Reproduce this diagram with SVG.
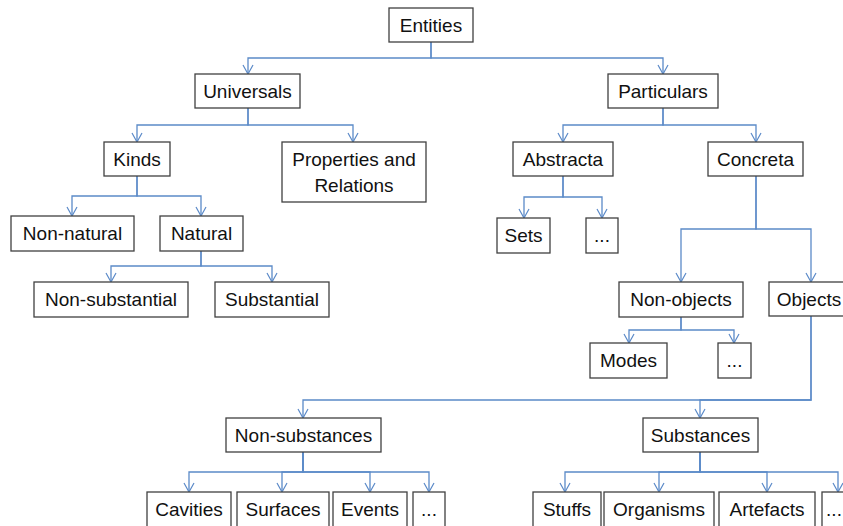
<svg xmlns="http://www.w3.org/2000/svg" width="843" height="526" viewBox="0 0 843 526">
  <style>
    .box { fill: #ffffff; stroke: #404040; stroke-width: 1.3; }
    .lbl { font-family: "Liberation Sans", Arial, sans-serif; font-size: 19px; fill: #111111; text-anchor: middle; }
    .edge { fill: none; stroke: #5b8ac8; stroke-width: 1.3; marker-end: url(#arr); }
  </style>
  <defs>
    <marker id="arr" viewBox="0 0 12 12" refX="10" refY="6" markerWidth="12" markerHeight="12" markerUnits="userSpaceOnUse" orient="auto">
      <path d="M1,1 L10,6 L1,11" fill="none" stroke="#5b8ac8" stroke-width="1.2"/>
    </marker>
  </defs>
  <rect width="843" height="526" fill="#ffffff"/>

  <!-- connectors: parent bottom, down to a bus line, across, down to child top -->
  <g id="connectors">
    <path class="edge" d="M431,42 V58 H248 V74"/>
    <path class="edge" d="M431,42 V58 H663 V74"/>
    <path class="edge" d="M248,108 V125 H137 V142"/>
    <path class="edge" d="M248,108 V125 H353 V142"/>
    <path class="edge" d="M137,176 V196 H72 V216"/>
    <path class="edge" d="M137,176 V196 H201 V216"/>
    <path class="edge" d="M201,251 V266 H111 V282"/>
    <path class="edge" d="M201,251 V266 H272 V282"/>
    <path class="edge" d="M663,108 V125 H563 V142"/>
    <path class="edge" d="M663,108 V125 H756 V142"/>
    <path class="edge" d="M563,176 V197 H524 V218"/>
    <path class="edge" d="M563,176 V197 H602 V218"/>
    <path class="edge" d="M756,176 V229 H681 V282"/>
    <path class="edge" d="M756,176 V229 H811 V282"/>
    <path class="edge" d="M681,317 V330 H629 V343"/>
    <path class="edge" d="M681,317 V330 H734 V343"/>
    <path class="edge" d="M811,316 V400 H303 V418"/>
    <path class="edge" d="M811,316 V400 H700 V418"/>
    <path class="edge" d="M303,452 V472 H189 V492"/>
    <path class="edge" d="M303,452 V472 H282 V492"/>
    <path class="edge" d="M303,452 V472 H370 V492"/>
    <path class="edge" d="M303,452 V472 H429 V492"/>
    <path class="edge" d="M700,452 V472 H565 V492"/>
    <path class="edge" d="M700,452 V472 H659 V492"/>
    <path class="edge" d="M700,452 V472 H767 V492"/>
    <path class="edge" d="M700,452 V472 H838 V492"/>
  </g>

  <g id="entities"><rect class="box" x="389" y="8" width="84" height="34"/><text class="lbl" x="431" y="31.5">Entities</text></g>
  <g id="universals"><rect class="box" x="195" y="74" width="105" height="34"/><text class="lbl" x="247.5" y="97.5">Universals</text></g>
  <g id="particulars"><rect class="box" x="608" y="74" width="110" height="34"/><text class="lbl" x="663" y="97.5">Particulars</text></g>
  <g id="kinds"><rect class="box" x="104" y="142" width="66" height="34"/><text class="lbl" x="137" y="165.5">Kinds</text></g>
  <g id="properties-relations"><rect class="box" x="282" y="142" width="144" height="60"/><text class="lbl" x="354" y="166">Properties and</text><text class="lbl" x="354" y="192">Relations</text></g>
  <g id="non-natural"><rect class="box" x="11" y="216" width="123" height="35"/><text class="lbl" x="72.5" y="240">Non-natural</text></g>
  <g id="natural"><rect class="box" x="160" y="216" width="83" height="35"/><text class="lbl" x="201.5" y="240">Natural</text></g>
  <g id="non-substantial"><rect class="box" x="34" y="282" width="154" height="35"/><text class="lbl" x="111" y="306">Non-substantial</text></g>
  <g id="substantial"><rect class="box" x="215" y="282" width="114" height="35"/><text class="lbl" x="272" y="306">Substantial</text></g>
  <g id="abstracta"><rect class="box" x="513" y="142" width="100" height="34"/><text class="lbl" x="563" y="165.5">Abstracta</text></g>
  <g id="concreta"><rect class="box" x="708" y="142" width="95" height="34"/><text class="lbl" x="755.5" y="165.5">Concreta</text></g>
  <g id="sets"><rect class="box" x="497" y="218" width="53" height="35"/><text class="lbl" x="523.5" y="242">Sets</text></g>
  <g id="abstracta-more"><rect class="box" x="586" y="218" width="32" height="35"/><text class="lbl" x="602" y="242">...</text></g>
  <g id="non-objects"><rect class="box" x="619" y="282" width="124" height="35"/><text class="lbl" x="681" y="306">Non-objects</text></g>
  <g id="objects"><rect class="box" x="769" y="282" width="84" height="34"/><text class="lbl" x="809" y="305.5">Objects</text></g>
  <g id="modes"><rect class="box" x="590" y="343" width="77" height="35"/><text class="lbl" x="628.5" y="367">Modes</text></g>
  <g id="non-objects-more"><rect class="box" x="718" y="343" width="33" height="35"/><text class="lbl" x="734.5" y="367">...</text></g>
  <g id="non-substances"><rect class="box" x="226" y="418" width="155" height="34"/><text class="lbl" x="303.5" y="441.5">Non-substances</text></g>
  <g id="substances"><rect class="box" x="643" y="418" width="115" height="34"/><text class="lbl" x="700.5" y="441.5">Substances</text></g>
  <g id="cavities"><rect class="box" x="147" y="492" width="84" height="40"/><text class="lbl" x="189" y="515.5">Cavities</text></g>
  <g id="surfaces"><rect class="box" x="237" y="492" width="92" height="40"/><text class="lbl" x="283" y="515.5">Surfaces</text></g>
  <g id="events"><rect class="box" x="333" y="492" width="74" height="40"/><text class="lbl" x="370" y="515.5">Events</text></g>
  <g id="non-substances-more"><rect class="box" x="413" y="492" width="32" height="40"/><text class="lbl" x="429" y="515.5">...</text></g>
  <g id="stuffs"><rect class="box" x="533" y="492" width="68" height="40"/><text class="lbl" x="567" y="515.5">Stuffs</text></g>
  <g id="organisms"><rect class="box" x="604" y="492" width="110" height="40"/><text class="lbl" x="659" y="515.5">Organisms</text></g>
  <g id="artefacts"><rect class="box" x="719" y="492" width="96" height="40"/><text class="lbl" x="767" y="515.5">Artefacts</text></g>
  <g id="substances-more"><rect class="box" x="822" y="492" width="34" height="40"/><text class="lbl" x="834" y="515.5">...</text></g>
</svg>
